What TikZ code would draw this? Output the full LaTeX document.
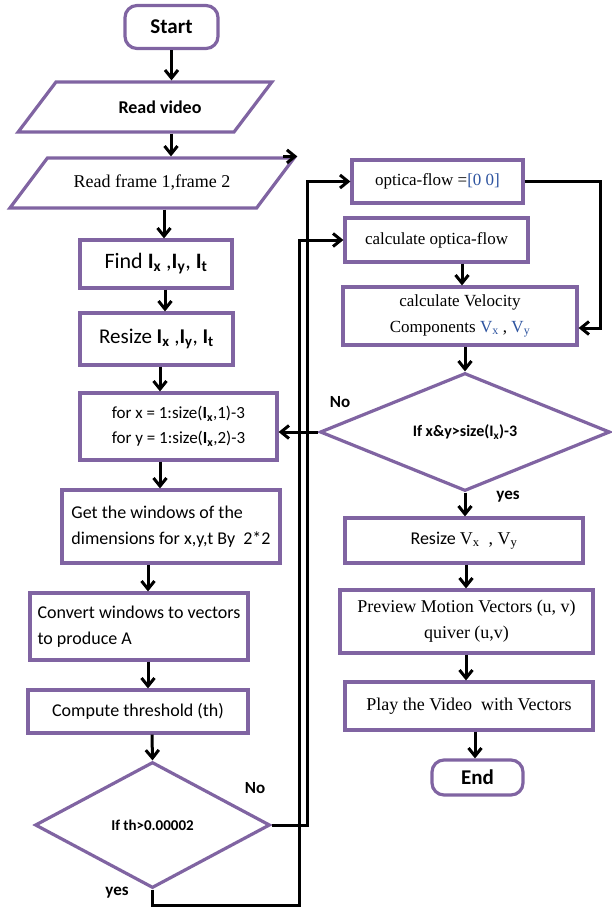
\documentclass[tikz,border=0pt]{standalone}
\usepackage{fontspec}
\setmainfont{Liberation Serif}
\setsansfont{Carlito}
\usetikzlibrary{shapes.geometric,arrows.meta}
\definecolor{boxpurple}{RGB}{128,100,162}
\definecolor{vblue}{RGB}{46,84,160}
\newcommand{\Isub}[1]{\textbf{I\textsubscript{#1}}}
\newcommand{\Vsub}[1]{V\textsubscript{#1}}
\begin{document}
\begin{tikzpicture}[x=1pt,y=-1pt,
	box/.style={draw=boxpurple,line width=3.2pt,fill=white,inner sep=2pt},
	term/.style={box,rounded corners=12pt,font=\sffamily\bfseries\fontsize{21}{24}\selectfont},
	para/.style={box,trapezium,trapezium left angle=34,trapezium right angle=146,trapezium stretches=true},
	cond/.style={box,diamond,inner sep=0pt},
	rmbox/.style={font=\rmfamily\fontsize{17}{26}\selectfont},
	lbl/.style={font=\sffamily\bfseries\fontsize{17}{18}\selectfont},
	arr/.style={line width=3pt,-{Straight Barb[length=8pt,width=13pt]}}]
					\useasboundingbox (0,0) rectangle (611,910);
					
					\node [term, minimum width=93, minimum height=43] (start) at (171.5,27) {Start};
					\node [para, minimum width=254, minimum height=50, font=\sffamily\bfseries\fontsize{18}{20}\selectfont] (video) at (145,107) {\hspace{30pt}Read video};
					\node [para, minimum width=285, minimum height=50, font=\rmfamily\fontsize{18}{20}\selectfont] (frame) at (152,183) {\raisebox{-10pt}{Read frame 1,frame 2}\hspace{10pt}};
					\node [box, minimum width=152, minimum height=48, font=\sffamily\fontsize{22}{24}\selectfont] (find) at (156,264) {Find \Isub{x} ,\Isub{y}, \Isub{t}};
					\node [box, minimum width=153, minimum height=52, font=\sffamily\fontsize{21}{24}\selectfont] (resize) at (156.5,339) {Resize \Isub{x} ,\Isub{y}, \Isub{t}};
					\node [box, minimum width=197, minimum height=67, align=left, font=\sffamily\fontsize{17}{25}\selectfont] (loop) at (178.5,426.5) {for x = 1:size(\Isub{x},1)-3\\for y = 1:size(\Isub{x},2)-3};
					\node [box, minimum width=218, minimum height=73, align=left, font=\sffamily\fontsize{18}{26}\selectfont] (window) at (171,526.5) {Get the windows of the\\dimensions for x,y,t By\ \ 2*2};
					\node [box, minimum width=218, minimum height=67, align=left, font=\sffamily\fontsize{18}{26}\selectfont] (convert) at (139,626.5) {Convert windows to vectors\\to produce A\hspace{108pt}};
					\node [box, minimum width=220, minimum height=43, font=\sffamily\fontsize{18}{22}\selectfont] (compute) at (138,711.5) {Compute threshold (th)};
					\node [cond, aspect=1.87, minimum width=235, minimum height=126, font=\sffamily\bfseries\fontsize{15}{16}\selectfont] (test) at (152.5,825) {If th>0.00002};
					\node [lbl] (testno) at (255,788) {No};
					\node [lbl] (testyes) at (117,893) {yes};
					
					\node [box, rmbox, minimum width=171, minimum height=43] (zero) at (437.5,181.5) {optica-flow =\textcolor{vblue}{[0 0]}};
					\node [box, rmbox, minimum width=183, minimum height=44] (calc) at (436.5,240) {calculate optica-flow};
					\node [box, rmbox, minimum width=234, minimum height=58, align=center] (velo) at (460,316) {calculate Velocity\\Components \textcolor{vblue}{\Vsub{x}} , \textcolor{vblue}{\Vsub{y}}};
					\node [cond, aspect=2.46, minimum width=290, minimum height=118, font=\sffamily\bfseries\fontsize{16}{18}\selectfont] (check) at (465,432) {If x\&y>size(I\textsubscript{x})-3};
					\node [lbl] (checkno) at (340,402) {No};
					\node [lbl] (checkyes) at (508,497) {yes};
					\node [box, minimum width=238, minimum height=45, font=\sffamily\fontsize{18}{22}\selectfont] (vresize) at (464,540.5) {Resize {\rmfamily\Vsub{x}\ \ , \Vsub{y}}};
					\node [box, minimum width=253, minimum height=63, align=center, font=\rmfamily\fontsize{18}{26}\selectfont] (preview) at (466.5,621.5) {Preview Motion Vectors (u, v)\\quiver (u,v)};
					\node [box, minimum width=248, minimum height=48, font=\rmfamily\fontsize{18}{20}\selectfont] (play) at (469,706) {Play the Video\ \ with Vectors};
					\node [term, minimum width=91, minimum height=35] (stop) at (477.5,777.5) {End};
					
					\draw [arr] (start) -- (start |- video.north);
					\draw [arr] (171,0 |- video.south) -- (171,0 |- frame.north);
					\draw [arr] ([xshift=-14pt]frame.top right corner) -- (frame.top right corner);
					\draw [arr] (164,0 |- frame.south) -- (164,0 |- find.north);
					\draw [arr] (165,0 |- find.south) -- (165,0 |- resize.north);
					\draw [arr] (160,0 |- resize.south) -- (160,0 |- loop.north);
					\draw [arr] (160,0 |- loop.south) -- (160,0 |- window.north);
					\draw [arr] (148,0 |- window.south) -- (148,0 |- convert.north);
					\draw [arr] (148,0 |- convert.south) -- (148,0 |- compute.north);
					\draw [arr] (152,0 |- compute.south) -- (test.north);
					
					\draw [arr] (test.east) -- (307,0 |- test.east) |- (zero.west);
					\draw [arr] (test.south) |- (299,905) |- (calc.west);
					
					\draw [arr] (zero.east) -- (600,0 |- zero.east) |- ([yshift=-12pt]velo.east);
					\draw [arr] (462,0 |- calc.south) -- (462,0 |- velo.north);
					\draw [arr] (465,0 |- velo.south) -- (check.north);
					\draw [arr] (check.west) -- (check.west -| loop.east);
					\draw [arr] (check.south) -- (465,0 |- vresize.north);
					\draw [arr] (466,0 |- vresize.south) -- (466,0 |- preview.north);
					\draw [arr] (466,0 |- preview.south) -- (466,0 |- play.north);
					\draw [arr] (475,0 |- play.south) -- (475,0 |- stop.north);
					
				\end{tikzpicture}
\end{document}
